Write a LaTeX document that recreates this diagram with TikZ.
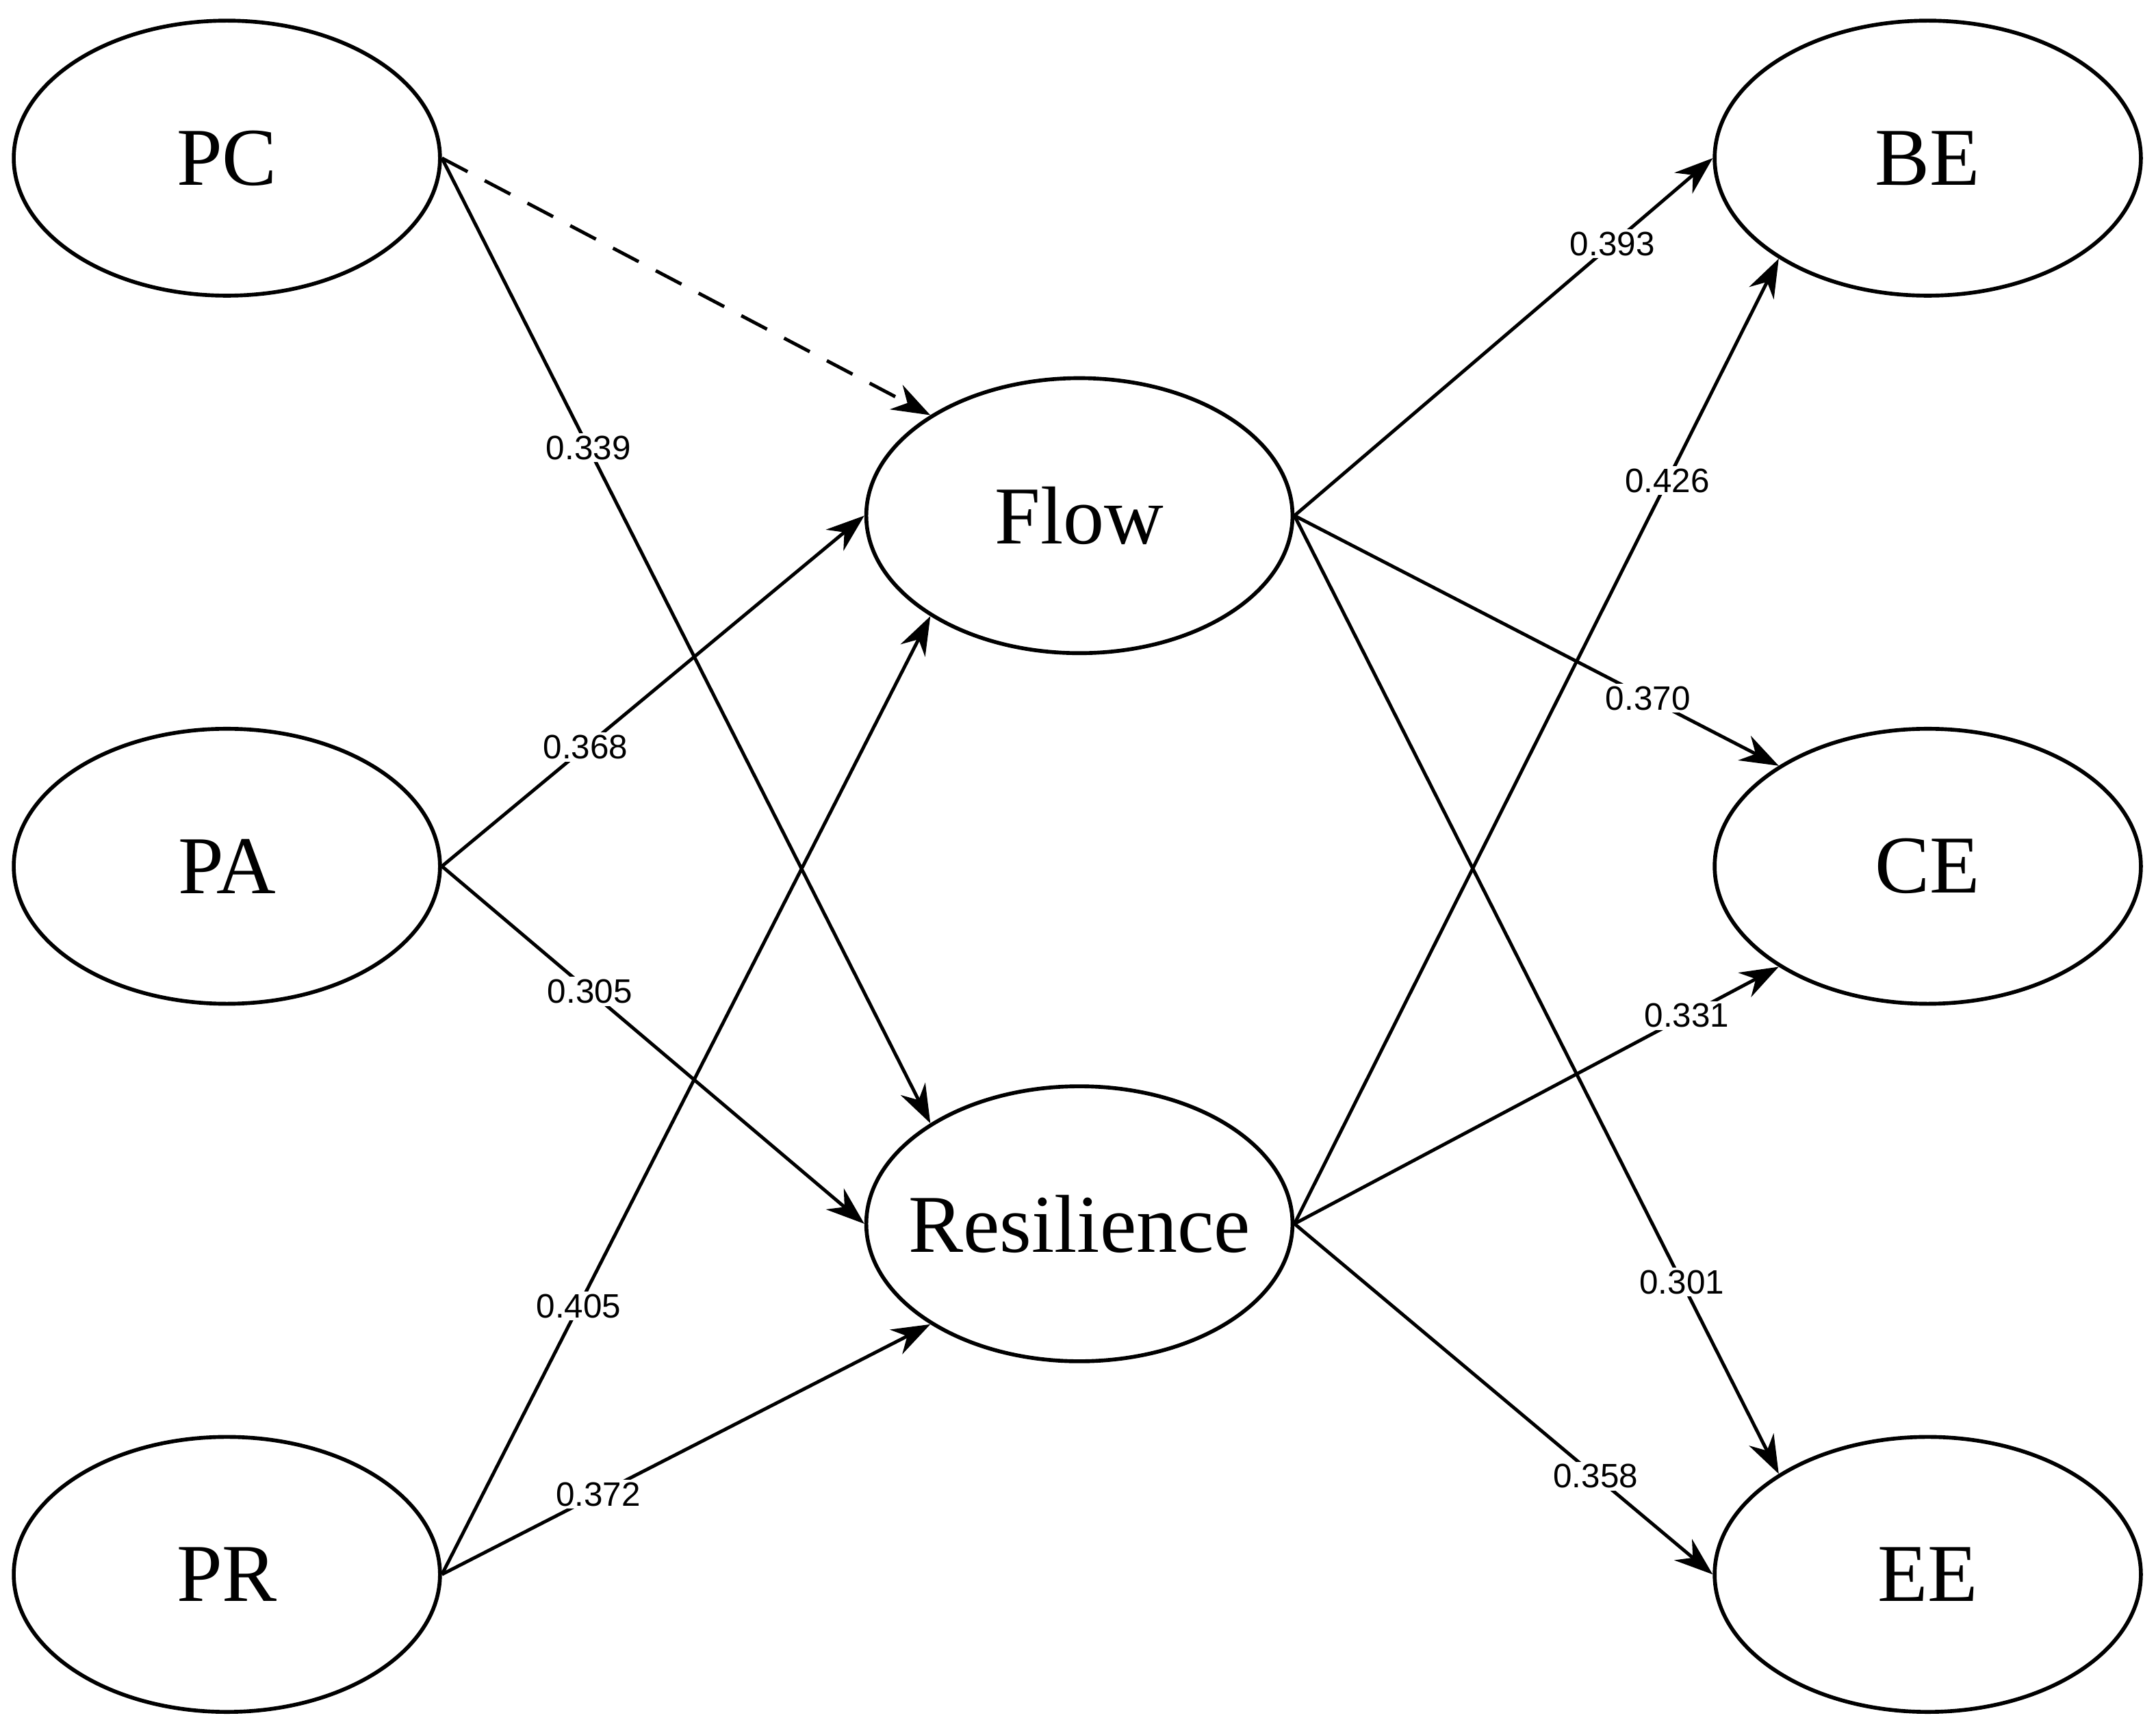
\documentclass[tikz,border=0pt]{standalone}
\usepackage{fontspec}
\setmainfont{Liberation Serif}
\newfontfamily\labelfont{Liberation Sans}
\usetikzlibrary{arrows.meta,shapes.geometric}
\begin{document}
\begin{tikzpicture}

\tikzstyle{latent} = [ellipse, draw=black, line width=0.8pt, minimum width=3.1cm, minimum height=2.0cm, inner sep=0pt]
\tikzstyle{title} = [font=\fontsize{17}{20}\selectfont]
\tikzstyle{path} = [line width=0.7pt, -{Stealth[length=0.28cm,width=0.2cm]}]
\tikzstyle{coef} = [fill=white, inner sep=0.5pt, font=\labelfont\fontsize{7}{8}\selectfont]

\useasboundingbox (0,0) rectangle (15.68,-12.6);

\node[latent] (PC) at (1.65, -1.15) {};
\node[latent] (PA) at (1.65, -6.30) {};
\node[latent] (PR) at (1.65, -11.45) {};
\node[latent] (Flow) at (7.85, -3.75) {};
\node[latent] (Res) at (7.85, -8.90) {};
\node[latent] (BE) at (14.02, -1.15) {};
\node[latent] (CE) at (14.02, -6.30) {};
\node[latent] (EE) at (14.02, -11.45) {};

\node[title] (PCtitle) at (PC) {PC};
\node[title] (PAtitle) at (PA) {PA};
\node[title] (PRtitle) at (PR) {PR};
\node[title] (Flowtitle) at (Flow) {Flow};
\node[title] (Restitle) at (Res) {Resilience};
\node[title] (BEtitle) at (BE) {BE};
\node[title] (CEtitle) at (CE) {CE};
\node[title] (EEtitle) at (EE) {EE};

\draw[path, dashed, dash pattern=on 6pt off 4pt] (PC.east) -- (Flow.146);
\draw[path] (PC.east) -- node[coef, pos=0.30] {0.339} (Res.146);
\draw[path] (PA.east) -- node[coef, pos=0.34] {0.368} (Flow.west);
\draw[path] (PA.east) -- node[coef, pos=0.35] {0.305} (Res.west);
\draw[path] (PR.east) -- node[coef, pos=0.28] {0.405} (Flow.214);
\draw[path] (PR.east) -- node[coef, pos=0.32] {0.372} (Res.214);

\draw[path] (Flow.east) -- node[coef, pos=0.76] {0.393} (BE.west);
\draw[path] (Res.east) -- node[coef, pos=0.77] {0.426} (BE.214);
\draw[path] (Flow.east) -- node[coef, pos=0.73] {0.370} (CE.146);
\draw[path] (Res.east) -- node[coef, pos=0.81] {0.331} (CE.214);
\draw[path] (Flow.east) -- node[coef, pos=0.80] {0.301} (EE.146);
\draw[path] (Res.east) -- node[coef, pos=0.72] {0.358} (EE.west);

\end{tikzpicture}
\end{document}
